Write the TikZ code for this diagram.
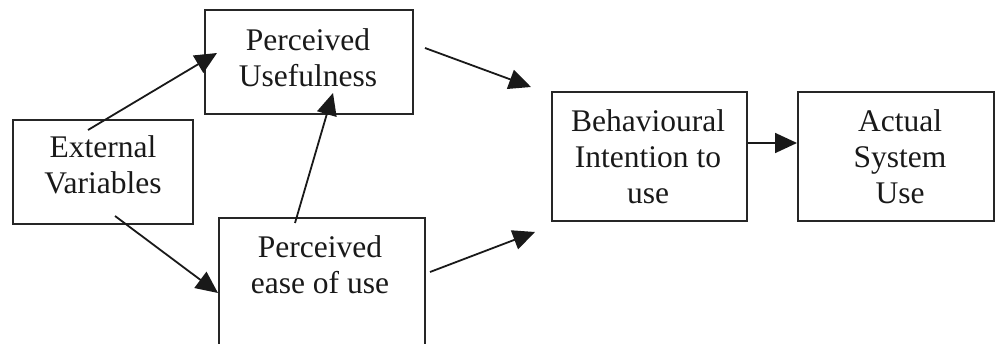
\documentclass[tikz,border=0pt]{standalone}
\usepackage{fontspec}
\setmainfont{Liberation Serif}
\usetikzlibrary{arrows.meta,calc}
\begin{document}
\begin{tikzpicture}[x=1pt,y=-1pt,
  box/.style={draw=black!85, line width=2pt, rectangle, inner sep=0pt, anchor=north west},
  lbl/.style={align=center, font=\fontsize{31.5}{36}\selectfont, text=black!90, inner sep=0pt},
  arr/.style={line width=1.8pt, draw=black!90, -{Triangle[length=22pt,width=20pt]}}]
\path[use as bounding box, clip] (0,0) rectangle (995,344);
% boxes
\node[box, minimum width=208pt, minimum height=104pt] (pu) at (204,9) {};
\node[box, minimum width=180pt, minimum height=104pt] (ev) at (12,119) {};
\node[box, minimum width=206pt, minimum height=150pt] (peou) at (218,217) {};
\node[box, minimum width=195pt, minimum height=129pt] (bi) at (551,91) {};
\node[box, minimum width=196pt, minimum height=129pt] (asu) at (797,91) {};
% texts
\node[lbl] (put) at (308,58) {Perceived\\Usefulness};
\node[lbl] (evt) at (103,165) {External\\Variables};
\node[lbl] (peout) at (320,265) {Perceived\\ease of use};
\node[lbl] (bit) at (648,157) {Behavioural\\Intention to\\use};
\node[lbl] (asut) at (900,157) {Actual\\System\\Use};
% connector ends
\coordinate (ev-pu-s) at (88,130);
\coordinate (ev-pu-e) at (217,53);
\coordinate (ev-peou-s) at (115,216);
\coordinate (ev-peou-e) at (218,293);
\coordinate (peou-pu-s) at (295,223);
\coordinate (peou-pu-e) at (333,93);
\coordinate (pu-bi-s) at (425,48);
\coordinate (pu-bi-e) at (531,87);
\coordinate (peou-bi-s) at (430,272);
\coordinate (peou-bi-e) at (535,232);
\coordinate (bi-asu-s) at (bi.east |- 0,143);
\coordinate (bi-asu-e) at (asu.west |- 0,143);
% connectors
\draw[arr] (ev-pu-s) -- (ev-pu-e);
\draw[arr] (ev-peou-s) -- (ev-peou-e);
\draw[arr] (peou-pu-s) -- (peou-pu-e);
\draw[arr] (pu-bi-s) -- (pu-bi-e);
\draw[arr] (peou-bi-s) -- (peou-bi-e);
\draw[arr] (bi-asu-s) -- (bi-asu-e);
\end{tikzpicture}
\end{document}
